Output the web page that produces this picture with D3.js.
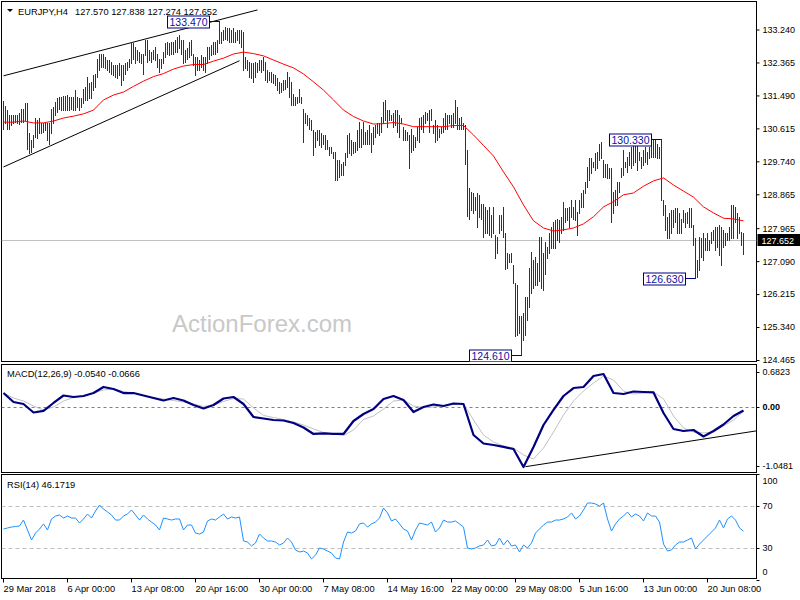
<!DOCTYPE html>
<html>
<head>
<meta charset="utf-8">
<script src="https://cdn.jsdelivr.net/npm/d3@7"></script>
<style>
body { margin: 0; background: #fff; }
svg { display: block; font-family: "Liberation Sans", Arial, sans-serif; }
</style>
</head>
<body>
<div id="view"></div>
<script>
var width = 800, height = 600;

// EURJPY H4 bars (one value per bar)
var highs = [
 131.35,131.21,131.10,130.97,130.97,130.97,130.97,130.97,131.01,131.14,
 131.14,131.28,131.28,130.48,130.30,130.44,130.88,130.83,130.88,130.75,
 130.75,130.75,130.75,130.75,131.14,131.19,131.32,131.41,131.45,131.45,
 131.47,131.47,131.50,131.45,131.45,131.45,131.63,131.45,131.41,131.41,
 131.67,131.72,131.98,131.81,131.85,132.03,132.07,132.47,132.60,132.60,
 132.60,132.52,132.43,132.43,132.38,132.29,132.29,132.29,132.34,132.29,
 132.29,132.34,132.38,132.47,132.91,132.87,132.78,132.69,132.65,132.60,
 132.60,132.96,132.96,132.69,132.65,132.69,132.78,132.60,132.47,132.47,
 132.65,132.87,132.91,132.87,132.91,132.91,132.96,133.05,133.09,132.96,
 132.96,132.69,132.74,132.91,132.96,132.60,132.52,132.52,132.43,132.56,
 132.52,132.52,132.78,132.78,132.83,132.91,132.91,132.96,133.47,133.18,
 133.22,133.31,133.27,133.27,133.22,133.27,133.18,133.24,133.22,133.22,
 133.18,132.52,132.43,132.38,132.34,132.34,132.38,132.34,132.43,132.43,
 132.52,132.38,132.16,132.12,132.12,132.07,132.03,131.94,131.85,131.83,
 131.90,131.90,132.12,131.98,131.85,131.54,131.45,131.45,131.67,131.45,
 131.14,131.01,130.97,130.88,130.83,130.57,130.52,130.57,130.57,130.48,
 130.44,130.44,130.30,130.13,130.13,129.99,129.99,129.77,129.77,129.68,
 129.73,129.95,130.44,130.48,130.30,130.26,130.26,130.57,130.79,130.61,
 130.79,130.52,130.57,130.70,130.48,130.66,130.70,130.75,130.75,130.92,
 131.32,131.37,131.10,131.10,130.97,131.01,131.10,131.10,130.97,130.88,
 130.66,130.57,130.52,130.44,130.61,130.44,130.39,130.66,130.88,130.92,
 130.97,131.06,131.01,131.10,131.14,130.70,130.83,130.70,130.61,130.66,
 130.88,131.01,130.97,130.97,130.97,131.01,131.37,131.19,130.88,130.92,
 130.75,130.70,130.04,129.02,128.93,128.89,128.80,128.89,128.84,128.62,
 128.62,128.53,128.45,128.53,128.31,128.53,127.78,127.74,128.31,128.31,
 128.53,127.83,127.30,127.28,127.30,126.98,126.50,126.45,125.62,125.62,
 125.70,126.15,126.15,126.90,127.34,127.12,127.21,127.03,127.74,127.74,
 127.30,127.61,127.47,127.83,128.00,128.14,128.18,128.22,128.18,128.27,
 128.67,128.49,128.49,128.53,128.71,128.53,128.71,128.40,128.71,128.89,
 128.98,129.20,129.60,129.82,129.82,129.73,129.95,129.99,130.21,130.26,
 129.77,129.68,129.68,129.55,129.55,128.93,128.98,129.20,129.20,129.55,
 130.04,129.73,129.86,129.99,130.13,130.30,130.21,130.17,129.99,129.86,
 130.04,130.13,129.99,130.13,130.17,130.30,130.30,130.21,130.13,130.33,
 128.71,128.58,128.27,128.36,128.45,128.45,128.49,128.49,128.36,128.22,
 128.45,128.36,128.40,128.49,128.49,128.05,127.70,127.12,127.74,127.70,
 127.83,127.70,127.83,127.65,127.87,127.92,128.00,128.00,128.05,128.00,
 127.92,127.83,127.83,128.00,128.58,128.58,128.53,128.36,128.27,127.87,
 127.84
];
var lows = [
 130.61,130.76,130.61,130.61,130.70,130.75,130.79,130.75,130.73,130.79,
 130.79,130.84,130.08,129.95,129.99,130.13,130.39,130.35,130.48,130.48,
 130.52,130.57,130.30,130.21,130.48,130.75,130.97,131.06,131.14,131.10,
 131.10,131.10,131.10,131.10,131.14,131.10,131.10,131.19,131.10,131.19,
 131.28,131.37,131.37,131.41,131.41,131.63,131.72,131.98,132.16,132.25,
 132.25,132.21,132.16,132.12,132.07,132.03,131.98,131.94,132.03,131.76,
 131.90,132.07,132.16,132.25,132.34,132.47,132.34,132.43,132.38,132.34,
 132.07,132.56,132.38,132.43,132.38,132.47,132.43,132.25,132.12,132.21,
 132.34,132.52,132.60,132.56,132.60,132.60,132.65,132.65,132.74,132.60,
 132.34,132.38,132.47,132.52,132.56,132.29,132.03,132.16,132.16,132.25,
 132.16,132.12,132.34,132.47,132.56,132.60,132.60,132.65,132.87,132.87,
 132.96,133.00,132.96,132.91,132.91,132.91,132.91,132.96,132.87,132.78,
 132.16,132.21,132.16,131.98,131.94,131.85,131.98,132.12,132.16,132.12,
 132.16,131.90,131.85,131.90,131.85,131.81,131.76,131.63,131.56,131.59,
 131.63,131.67,131.72,131.45,131.23,131.23,131.23,131.28,131.32,131.28,
 130.26,130.75,130.70,130.61,130.57,129.91,130.13,130.30,130.17,130.13,
 130.21,130.08,130.08,129.91,129.95,129.82,129.24,129.24,129.33,129.37,
 129.37,129.64,129.86,129.95,129.91,129.95,129.99,130.04,130.13,130.13,
 130.21,130.21,130.21,130.21,129.99,130.21,130.39,130.48,130.44,130.52,
 130.75,130.83,130.66,130.83,130.83,130.66,130.70,130.52,130.39,130.75,
 130.30,130.30,130.30,129.55,129.99,130.04,130.13,130.30,130.26,130.61,
 130.52,130.75,130.83,130.52,130.83,130.48,130.26,130.30,130.39,130.48,
 130.52,130.61,130.61,130.75,130.66,130.66,130.75,130.61,130.61,130.61,
 130.61,129.68,128.30,128.22,128.45,128.36,128.45,128.00,128.27,128.22,
 127.74,127.83,127.83,127.78,127.74,127.83,127.16,127.30,127.83,127.92,
 127.74,126.87,126.90,127.07,127.07,126.50,125.10,125.13,125.17,124.61,
 125.00,125.13,125.53,125.88,126.24,126.37,126.46,126.46,126.55,126.37,
 126.32,126.76,127.16,127.30,127.43,127.43,127.43,127.65,127.61,127.83,
 127.92,128.14,128.18,128.00,128.27,128.22,128.18,127.78,128.36,128.53,
 128.53,128.89,129.07,129.24,129.42,129.60,129.51,129.55,129.77,129.82,
 129.33,129.33,129.29,129.29,128.14,128.36,128.58,128.58,128.93,129.33,
 129.38,129.60,129.46,129.64,129.55,129.64,129.73,129.51,129.77,129.55,
 129.64,129.73,129.68,129.82,129.86,129.86,129.86,129.82,129.82,128.71,
 128.31,127.92,127.70,127.70,127.83,128.00,128.14,127.83,127.83,127.83,
 128.14,128.00,128.09,128.00,128.00,127.52,126.63,126.68,126.85,127.21,
 127.12,127.38,127.38,127.38,127.56,127.65,127.38,127.47,127.25,126.98,
 127.47,127.52,127.65,127.65,127.70,127.70,128.14,127.70,127.83,127.52,
 127.27
];

// red moving average, one reading every 5 bars
var maStep = 5;
var maVals = [
 130.78,130.78,130.81,130.76,130.76,130.81,130.89,130.94,131.00,131.10,
 131.37,131.50,131.58,131.73,131.87,131.99,132.07,132.19,132.27,132.31,
 132.31,132.40,132.48,132.59,132.64,132.60,132.54,132.43,132.32,132.22,
 132.06,131.85,131.63,131.37,131.10,130.93,130.81,130.73,130.74,130.77,
 130.73,130.66,130.66,130.66,130.66,130.69,130.69,130.44,130.16,129.88,
 129.46,129.06,128.58,128.16,127.97,127.89,127.92,127.97,128.08,128.27,
 128.53,128.67,128.85,128.90,129.08,129.22,129.30,129.11,128.95,128.79,
 128.53,128.37,128.23,128.21,128.16
];

// MACD(12,26,9), one reading every 5 bars
var macdStep = 5;
var macdMain = [
 0.229,0.084,0.052,-0.086,-0.061,0.068,0.189,0.165,0.181,0.229,
 0.327,0.294,0.229,0.229,0.189,0.149,0.108,0.149,0.108,0.035,
 -0.021,0.035,0.141,0.165,0.052,-0.158,-0.183,-0.207,-0.215,-0.255,
 -0.328,-0.433,-0.425,-0.433,-0.433,-0.223,-0.110,-0.029,0.132,0.181,
 0.116,-0.078,0.003,0.044,0.019,0.060,0.052,-0.450,-0.587,-0.611,
 -0.643,-0.676,-0.967,-0.643,-0.288,-0.045,0.181,0.310,0.327,0.504,
 0.537,0.229,0.213,0.254,0.246,0.238,-0.094,-0.353,-0.385,-0.369,
 -0.474,-0.385,-0.280,-0.142,-0.054
];
var macdSignal = [
 0.229,0.149,0.100,0.019,-0.045,0.003,0.100,0.157,0.181,0.229,
 0.278,0.294,0.254,0.229,0.189,0.157,0.132,0.108,0.084,0.052,
 0.011,0.035,0.092,0.141,0.132,-0.013,-0.134,-0.166,-0.199,-0.239,
 -0.288,-0.352,-0.409,-0.433,-0.458,-0.369,-0.199,-0.142,-0.029,0.100,
 0.116,0.019,-0.005,0.003,0.027,0.044,0.052,-0.207,-0.450,-0.563,
 -0.628,-0.660,-0.773,-0.838,-0.660,-0.401,-0.126,0.100,0.262,0.391,
 0.504,0.440,0.262,0.213,0.229,0.246,0.132,-0.142,-0.336,-0.401,
 -0.417,-0.401,-0.304,-0.207,-0.067
];

// RSI(14), one reading every 2 bars
var rsiStep = 2;
var rsiVals = [
 48.2,49.2,50.1,50.6,51.1,56.7,47.3,37.8,44.4,48.2,
 53.0,47.3,57.7,60.5,61.5,58.6,60.5,58.6,58.6,53.9,
 57.7,62.4,58.6,65.2,70.9,67.1,64.3,61.5,56.7,56.7,
 60.5,62.4,66.2,61.5,56.7,61.5,57.7,54.8,52.0,47.3,
 58.6,57.7,56.7,57.7,57.7,47.3,52.0,52.0,44.4,43.5,
 45.4,55.8,57.7,56.7,59.6,62.4,57.7,59.6,58.6,59.6,
 36.9,35.9,32.2,35.0,43.5,39.7,36.9,36.9,35.9,33.1,
 35.0,39.7,35.9,28.4,26.5,27.4,25.5,19.9,23.6,30.3,
 29.3,27.4,25.5,20.8,19.9,35.9,45.4,44.4,46.3,53.0,
 53.9,50.1,53.0,54.8,58.6,68.1,63.4,55.8,57.7,53.0,
 48.2,46.3,37.8,47.3,53.9,53.0,52.0,54.8,45.4,49.2,
 56.7,54.8,54.8,55.8,53.0,50.1,30.3,29.3,30.3,32.2,
 33.1,37.8,32.2,33.1,39.7,33.1,37.8,32.2,33.1,26.5,
 33.1,30.3,35.0,44.4,48.2,52.0,54.8,54.8,56.7,56.7,
 57.7,59.6,63.4,57.7,60.5,66.2,72.8,72.8,71.9,70.0,
 72.8,57.7,46.3,53.0,57.7,60.5,64.3,59.6,62.4,60.5,
 55.8,63.4,60.5,60.5,54.8,34.0,27.4,28.4,33.1,35.9,
 35.9,37.8,39.7,29.3,34.0,37.8,41.6,45.4,49.2,56.7,
 49.2,57.7,60.5,56.7,49.2,46.17
];

// axis labels
var priceTicks = [133.240,132.365,131.490,130.615,129.740,128.865,127.965,127.090,126.215,125.340,124.465];
var macdTicks = [0.6823, 0, -1.0481];
var macdTickText = ["0.6823", "0.00", "-1.0481"];
var rsiTicks = [100, 70, 30, 0];
var timeTicks = [0,32,64,96,128,160,192,224,256,288,320,352];
var timeLabels = ["29 Mar 2018","6 Apr 00:00","13 Apr 08:00","20 Apr 16:00","30 Apr 00:00","7 May 08:00",
                  "14 May 16:00","22 May 00:00","29 May 08:00","5 Jun 16:00","13 Jun 00:00","20 Jun 08:00"];

// marked highs/lows
var markBars = [108, 259, 329, 346];
var markPrices = [133.470, 124.610, 130.330, 126.630];

// drawn trend lines [bar, value]
var channelUp = [[0, 132.01], [127, 133.76]];
var channelDown = [[0, 129.59], [118, 132.41]];
var macdTrend = [[261, -0.962], [377, -0.380]];

var lastPrice = 127.652;
var symbol = "EURJPY,H4";
var ohlc = "127.570 127.838 127.274 127.652";
var macdTitle = "MACD(12,26,9) -0.0540 -0.0666";
var rsiTitle = "RSI(14) 46.1719";

var svg = d3.select("#view").append("svg")
	.attr("width", width)
	.attr("height", height);

var left = 1.5, right = 756.5;
var panels = {
	main: { top: 1.5, bottom: 361.5 },
	macd: { top: 364.5, bottom: 472.5 },
	rsi:  { top: 474.5, bottom: 578.5 }
};

var x = d3.scaleLinear().domain([0, 370]).range([3, 743]);
var yMain = d3.scaleLinear().domain([124.465, 133.24]).range([360, 29.5]);
var yMacd = d3.scaleLinear().domain([-1.0481, 0.6823]).range([472, 365]);
var yRsi = d3.scaleLinear().domain([0, 100]).range([580, 474.25]);

var defs = svg.append("defs");
Object.keys(panels).forEach(function(k) {
	var p = panels[k];
	defs.append("clipPath").attr("id", "clip-" + k)
		.append("rect")
		.attr("x", left).attr("y", p.top)
		.attr("width", right - left).attr("height", p.bottom - p.top);
});

// panel frames
Object.keys(panels).forEach(function(k) {
	var p = panels[k];
	svg.append("rect")
		.attr("x", left).attr("y", p.top)
		.attr("width", right - left).attr("height", p.bottom - p.top)
		.attr("fill", "none").attr("stroke", "#000").attr("stroke-width", 1);
});

// ---------- main panel ----------
var gMain = svg.append("g").attr("clip-path", "url(#clip-main)");

gMain.append("text")
	.attr("x", 172).attr("y", 332)
	.attr("font-size", 24)
	.attr("fill", "#c8c8c8")
	.text("ActionForex.com");

gMain.append("line")   // current price
	.attr("x1", left).attr("x2", right)
	.attr("y1", Math.round(yMain(lastPrice)) + 0.5)
	.attr("y2", Math.round(yMain(lastPrice)) + 0.5)
	.attr("stroke", "#c0c0c0");

var tline = d3.line()
	.x(function(d) { return x(d[0]) + 0.5; })
	.y(function(d) { return yMain(d[1]); });

[channelUp, channelDown].forEach(function(seg) {
	gMain.append("path")
		.attr("d", tline(seg))
		.attr("fill", "none").attr("stroke", "#000").attr("stroke-width", 1);
});

gMain.selectAll(".bar")
	.data(highs).enter()
	.append("line")
	.attr("class", "bar")
	.attr("x1", function(d, i) { return x(i) + 0.5; })
	.attr("x2", function(d, i) { return x(i) + 0.5; })
	.attr("y1", function(d) { return Math.round(yMain(d)); })
	.attr("y2", function(d, i) { return Math.round(yMain(lows[i])) + 1; })
	.attr("stroke", "#0f3c5d")
	.attr("stroke-width", 1)
	.attr("shape-rendering", "crispEdges");

var maLine = d3.line()
	.x(function(d, i) { return x(i * maStep) + 0.5; })
	.y(function(d) { return yMain(d); });
gMain.append("path")
	.attr("d", maLine(maVals))
	.attr("fill", "none").attr("stroke", "#ff0000").attr("stroke-width", 1);

// marked prices
markBars.forEach(function(b, k) {
	var bx = x(b) + 0.5;
	var ly = Math.round(yMain(markPrices[k])) + 0.5;
	var boxR = bx - 10, boxW = 42;
	gMain.append("line")
		.attr("x1", boxR).attr("x2", bx)
		.attr("y1", ly).attr("y2", ly)
		.attr("stroke", "#000080");
	gMain.append("rect")
		.attr("x", boxR - boxW).attr("y", ly - 5.5)
		.attr("width", boxW).attr("height", 12)
		.attr("fill", "#fff").attr("stroke", "#000080");
	gMain.append("text")
		.attr("x", boxR - boxW / 2).attr("y", ly + 4.5)
		.attr("text-anchor", "middle")
		.attr("font-size", 10.5)
		.attr("fill", "#1010a0")
		.text(markPrices[k].toFixed(3));
});

svg.append("path")
	.attr("d", "M7,9 L13,9 L10,12 Z")
	.attr("fill", "#000");
svg.append("text")
	.attr("x", 18).attr("y", 15)
	.attr("font-size", 9.3)
	.text(symbol);
svg.append("text")
	.attr("x", 75).attr("y", 15)
	.attr("font-size", 9.3)
	.text(ohlc);

// price axis
var axMain = svg.append("g")
	.attr("transform", "translate(" + right + ",0)")
	.call(d3.axisRight(yMain).tickValues(priceTicks).tickSize(3).tickPadding(3)
		.tickFormat(d3.format(".3f")));
axMain.select(".domain").remove();
axMain.selectAll("text").attr("font-size", 9).attr("font-family", "Liberation Sans, Arial, sans-serif");

var pY = Math.round(yMain(lastPrice));
svg.append("rect")
	.attr("x", right + 1).attr("y", pY - 6)
	.attr("width", 43).attr("height", 12)
	.attr("fill", "#000");
svg.append("text")
	.attr("x", right + 5).attr("y", pY + 3.5)
	.attr("font-size", 9).attr("fill", "#fff")
	.text(lastPrice.toFixed(3));

// ---------- MACD panel ----------
var gMacd = svg.append("g").attr("clip-path", "url(#clip-macd)");
gMacd.append("line")
	.attr("x1", left).attr("x2", right)
	.attr("y1", Math.round(yMacd(0)) + 0.5).attr("y2", Math.round(yMacd(0)) + 0.5)
	.attr("stroke", "#808080").attr("stroke-dasharray", "3,3");

var macdLine = d3.line()
	.x(function(d, i) { return x(i * macdStep) + 0.5; })
	.y(function(d) { return yMacd(d); });
gMacd.append("path")
	.attr("d", macdLine(macdSignal))
	.attr("fill", "none").attr("stroke", "#c0c0c0").attr("stroke-width", 1);
gMacd.append("path")
	.attr("d", macdLine(macdMain))
	.attr("fill", "none").attr("stroke", "#000080").attr("stroke-width", 2.2)
	.attr("stroke-linejoin", "round");
gMacd.append("path")
	.attr("d", d3.line()
		.x(function(d) { return x(d[0]) + 0.5; })
		.y(function(d) { return yMacd(d[1]); })(macdTrend))
	.attr("fill", "none").attr("stroke", "#000").attr("stroke-width", 1);

svg.append("text")
	.attr("x", 7).attr("y", 377)
	.attr("font-size", 9.3)
	.text(macdTitle);

var macdNudge = [7, 0, -6];
macdTicks.forEach(function(v, k) {
	var ty = yMacd(v) + macdNudge[k];
	svg.append("line")
		.attr("x1", right).attr("x2", right + 3)
		.attr("y1", Math.round(ty) + 0.5).attr("y2", Math.round(ty) + 0.5)
		.attr("stroke", "#000");
	svg.append("text")
		.attr("x", right + 6).attr("y", ty + 3)
		.attr("font-size", 9)
		.attr("font-weight", v === 0 ? "bold" : "normal")
		.text(macdTickText[k]);
});

// ---------- RSI panel ----------
var gRsi = svg.append("g").attr("clip-path", "url(#clip-rsi)");
[70, 30].forEach(function(v) {
	gRsi.append("line")
		.attr("x1", left).attr("x2", right)
		.attr("y1", Math.round(yRsi(v)) + 0.5).attr("y2", Math.round(yRsi(v)) + 0.5)
		.attr("stroke", "#c0c0c0").attr("stroke-dasharray", "4,3");
});
gRsi.append("path")
	.attr("d", d3.line()
		.x(function(d, i) { return x(i * rsiStep) + 0.5; })
		.y(function(d) { return yRsi(d); })(rsiVals))
	.attr("fill", "none").attr("stroke", "#1e90ff").attr("stroke-width", 1);

svg.append("text")
	.attr("x", 7).attr("y", 487.5)
	.attr("font-size", 9.3)
	.text(rsiTitle);

var rsiNudge = [7, 0, 0, -8];
rsiTicks.forEach(function(v, k) {
	var ty = yRsi(v) + rsiNudge[k];
	svg.append("line")
		.attr("x1", right).attr("x2", right + 3)
		.attr("y1", Math.round(yRsi(v)) + 0.5).attr("y2", Math.round(yRsi(v)) + 0.5)
		.attr("stroke", "#000");
	svg.append("text")
		.attr("x", right + 6).attr("y", ty + 3)
		.attr("font-size", 9)
		.text(v);
});

// time axis
var axTime = svg.append("g")
	.attr("transform", "translate(0," + panels.rsi.bottom + ")")
	.call(d3.axisBottom(x).tickValues(timeTicks).tickSize(4).tickPadding(3)
		.tickFormat(function(d, i) { return timeLabels[i]; }));
axTime.select(".domain").remove();
axTime.selectAll(".tick").attr("transform", function(d) { return "translate(" + (x(d) + 0.5) + ",0)"; });
axTime.selectAll("text")
	.attr("text-anchor", "start")
	.attr("x", 0)
	.attr("font-size", 9.3)
	.attr("font-family", "Liberation Sans, Arial, sans-serif");
</script>
</body>
</html>
